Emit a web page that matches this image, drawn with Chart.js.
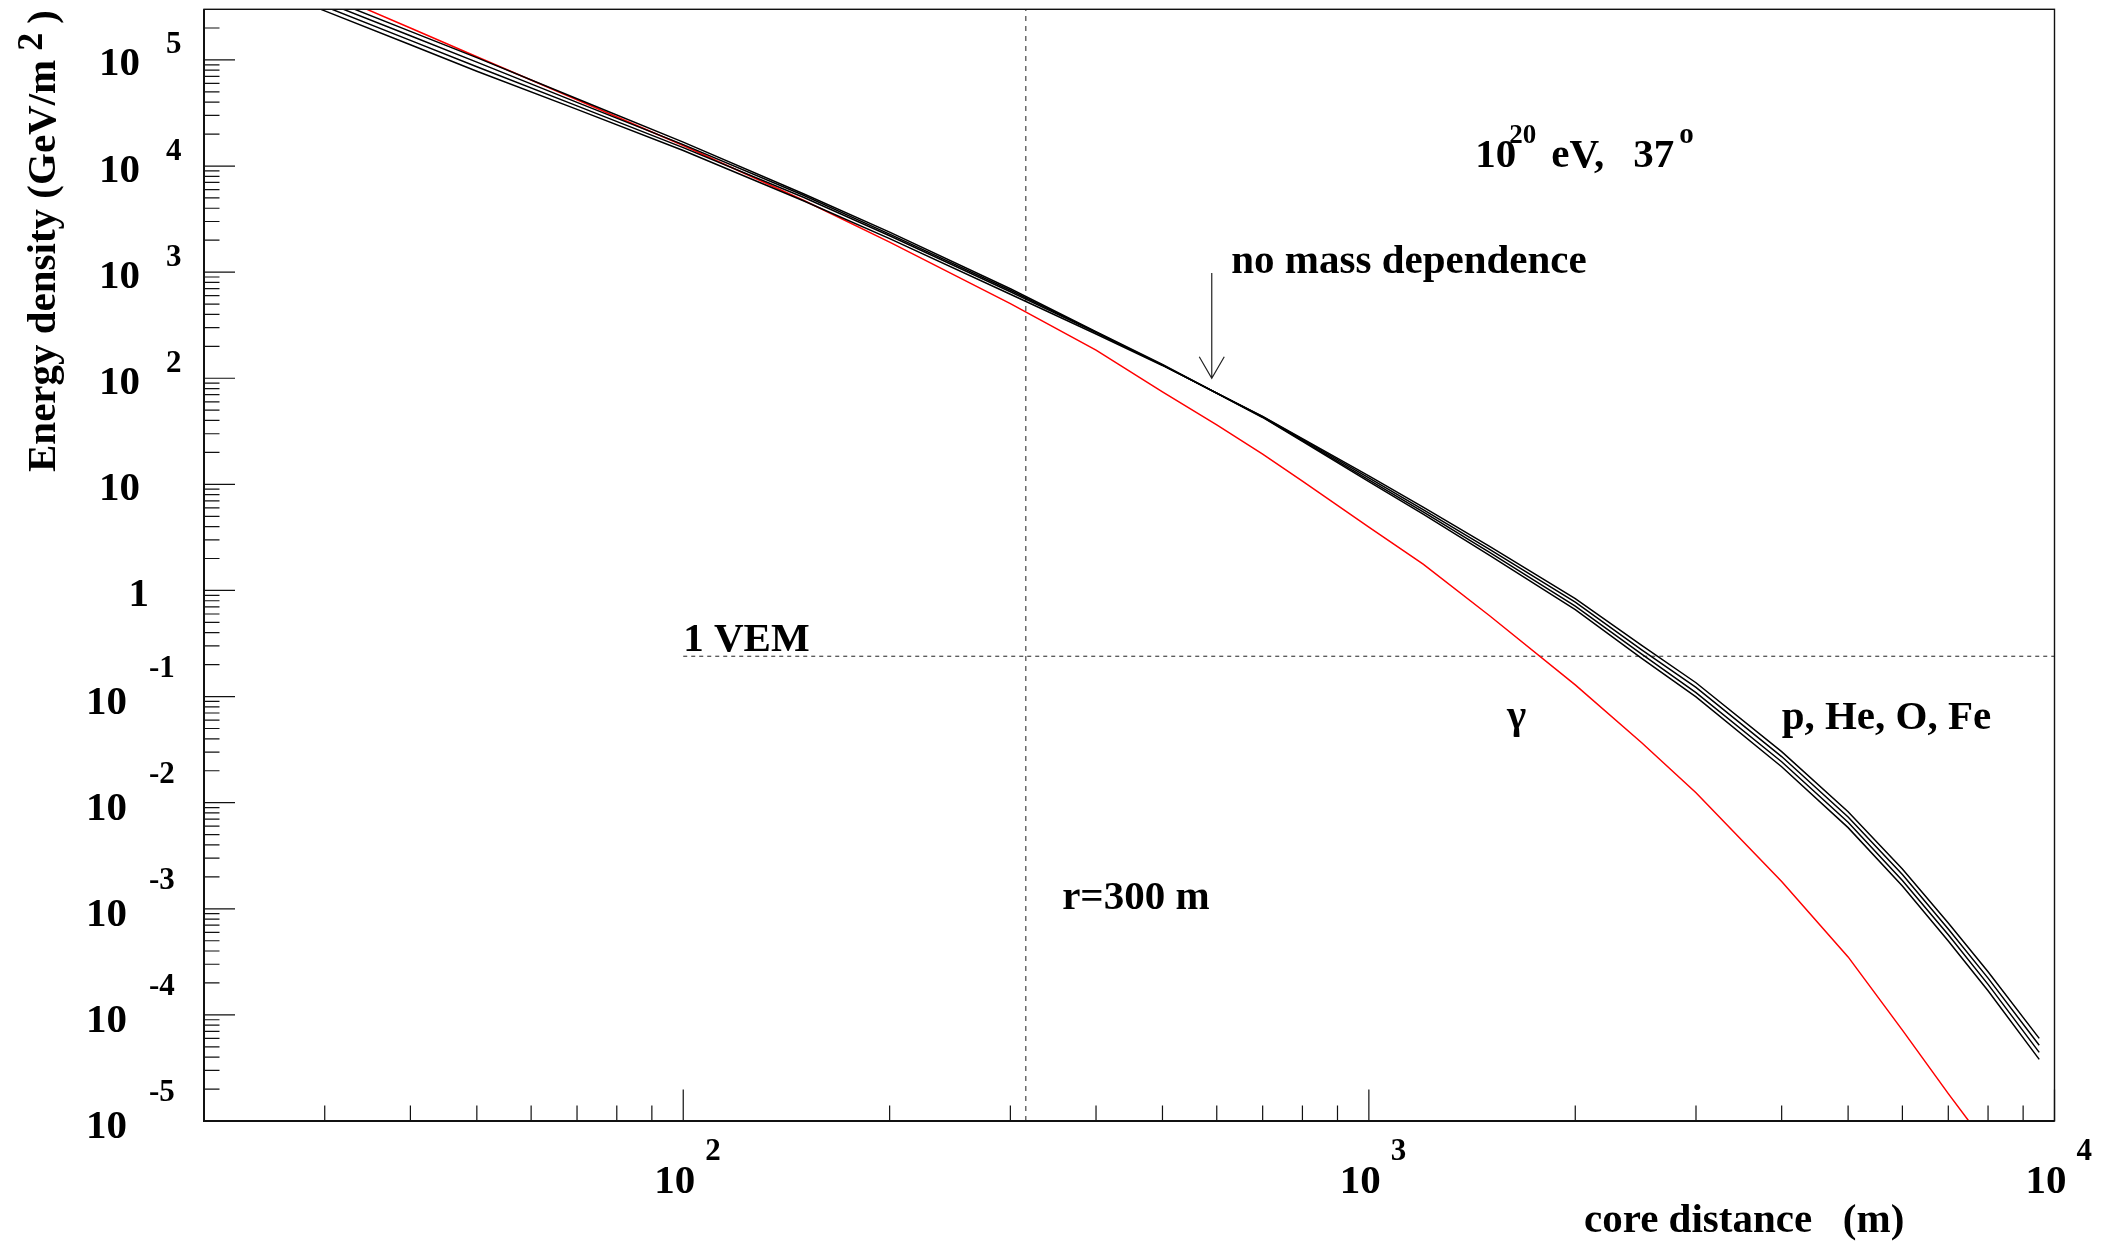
<!DOCTYPE html>
<html>
<head>
<meta charset="utf-8">
<title>Energy density vs core distance</title>
<script src="https://cdn.jsdelivr.net/npm/chart.js@4.4.1/dist/chart.umd.min.js"></script>
<style>
  html, body { margin: 0; padding: 0; background: #fff; }
  #wrap { width: 2115px; height: 1246px; }
</style>
</head>
<body>
<div id="wrap"><canvas id="ldfChart"></canvas></div>
<script>
// === Data ===
// core distance in m, energy density in GeV/m^2
const distance = [20, 30, 40, 50, 70, 100, 150, 200, 300, 400, 500, 600, 700, 800, 1000, 1200, 1500, 2000, 2500, 3000, 4000, 5000, 6000, 7000, 8000, 9500];
const densityFe = [8.20e5, 2.90e5, 1.39e5, 7.83e4, 3.42e4, 1.40e4, 4.68e3, 2.07e3, 619, 261, 132, 72.5, 43.6, 27.0, 12.0, 6.10, 2.60, 0.838, 0.303, 0.135, 0.0303, 8.22e-3, 2.37e-3, 7.36e-4, 2.55e-4, 6.01e-5];
const densityO = [9.04e5, 3.19e5, 1.53e5, 8.63e4, 3.69e4, 1.49e4, 5.05e3, 2.20e3, 653, 269, 133, 72.4, 43.4, 26.5, 11.5, 5.79, 2.44, 0.776, 0.276, 0.122, 0.0272, 7.33e-3, 2.10e-3, 6.46e-4, 2.22e-4, 5.18e-5];
const densityHe = [9.98e5, 3.52e5, 1.69e5, 9.53e4, 3.98e4, 1.59e4, 5.27e3, 2.28e3, 675, 272, 133, 72.3, 43.0, 25.9, 11.0, 5.51, 2.29, 0.711, 0.251, 0.109, 0.0243, 6.53e-3, 1.85e-3, 5.68e-4, 1.94e-4, 4.43e-5];
const densityP = [1.10e6, 3.88e5, 1.86e5, 1.05e5, 4.30e4, 1.68e4, 5.45e3, 2.38e3, 698, 275, 135, 72.2, 42.7, 25.4, 10.6, 5.24, 2.14, 0.659, 0.229, 0.0993, 0.0218, 5.82e-3, 1.64e-3, 4.98e-4, 1.69e-4, 3.81e-5];

const gammaDistance = [20, 30, 40, 50, 70, 100, 150, 200, 300, 400, 500, 600, 700, 800, 1000, 1200, 1500, 2000, 2500, 3000, 4000, 5000, 6000, 7000, 8000];
const densityGamma = [1.37e6, 4.44e5, 2.00e5, 1.07e5, 4.21e4, 1.56e4, 4.73e3, 1.92e3, 505, 184, 74.5, 36.3, 19.3, 10.7, 3.95, 1.77, 0.578, 0.129, 0.0367, 0.0124, 1.81e-3, 3.52e-4, 7.18e-5, 1.81e-5, 5.73e-6];

// reference lines
const vemLevel = 0.24;          // 1 VEM
const vemRange = [100, 10000];
const markerDistance = 316;     // "r=300 m" line
const arrowDistance = 590;
const arrowRange = [980, 100];

// axes
const xRange = [20, 10000];
const yRange = [1e-5, 3e5];
const xMajorTicks = [100, 1000, 10000];
const xTickExponents = ['2', '3', '4'];
const yMajorTicks = [1e-5, 1e-4, 1e-3, 1e-2, 1e-1, 1, 10, 100, 1e3, 1e4, 1e5];
const yTickExponents = ['-5', '-4', '-3', '-2', '-1', '', '', '2', '3', '4', '5'];
const yTickBases = ['10', '10', '10', '10', '10', '1', '10', '10', '10', '10', '10'];
const minorSteps = [2, 3, 4, 5, 6, 7, 8, 9];

const toXY = (xs, ys) => xs.map((v, i) => ({ x: v, y: ys[i] }));

const SERIF = '"Liberation Serif", "Times New Roman", serif';
const bold = (px) => 'bold ' + px + 'px ' + SERIF;

// === Frame, inward ticks, ROOT-style labels ===
const rootFrame = {
    id: 'rootFrame',
    afterDraw(chart) {
        const { ctx, chartArea: a, scales: { x, y } } = chart;
        ctx.save();
        ctx.fillStyle = '#000';
        ctx.strokeStyle = '#111';

        // ticks
        ctx.lineWidth = 1.2;
        ctx.beginPath();
        yMajorTicks.forEach(v => {
            const py = y.getPixelForValue(v);
            ctx.moveTo(a.left, py); ctx.lineTo(a.left + 31, py);
            minorSteps.forEach(k => {
                const m = v * k;
                if (m >= yRange[1]) return;
                const pm = y.getPixelForValue(m);
                ctx.moveTo(a.left, pm); ctx.lineTo(a.left + 15.5, pm);
            });
        });
        [10, 100, 1000].forEach(d => {
            minorSteps.forEach(k => {
                const m = d * k;
                if (m <= xRange[0] || m >= xRange[1]) return;
                const pm = x.getPixelForValue(m);
                ctx.moveTo(pm, a.bottom); ctx.lineTo(pm, a.bottom - 15.5);
            });
        });
        xMajorTicks.forEach(v => {
            const px = x.getPixelForValue(v);
            ctx.moveTo(px, a.bottom); ctx.lineTo(px, a.bottom - 31.5);
        });
        ctx.stroke();

        // frame
        ctx.lineWidth = 1.4;
        ctx.strokeRect(a.left, a.top, a.right - a.left, a.bottom - a.top);
        ctx.lineWidth = 2;
        ctx.beginPath();
        ctx.moveTo(a.left, a.top); ctx.lineTo(a.left, a.bottom); ctx.lineTo(a.right, a.bottom);
        ctx.stroke();

        // y tick labels
        ctx.textBaseline = 'alphabetic';
        yMajorTicks.forEach((v, i) => {
            const py = y.getPixelForValue(v);
            const exp = yTickExponents[i];
            ctx.font = bold(41);
            ctx.textAlign = 'right';
            if (yTickBases[i] === '1') {
                ctx.fillText('1', a.left - 55, py + 15.5);
            } else if (exp.startsWith('-')) {
                ctx.fillText('10', a.left - 77, py + 17);
                ctx.font = bold(31);
                ctx.textAlign = 'left';
                ctx.fillText(exp, a.left - 55, py - 20);
            } else {
                ctx.fillText('10', a.left - 64, py + 15.5);
                if (exp) {
                    ctx.font = bold(31);
                    ctx.textAlign = 'left';
                    ctx.fillText(exp, a.left - 38, py - 6.5);
                }
            }
        });

        // x tick labels
        xMajorTicks.forEach((v, i) => {
            const px = x.getPixelForValue(v);
            ctx.font = bold(41);
            ctx.textAlign = 'right';
            ctx.fillText('10', px + 12, a.bottom + 72);
            ctx.font = bold(31);
            ctx.textAlign = 'left';
            ctx.fillText(xTickExponents[i], px + 22, a.bottom + 39);
        });

        // axis titles
        ctx.font = bold(41);
        ctx.textAlign = 'left';
        ctx.fillText('core distance   (m)', 1584, a.bottom + 111);

        ctx.save();
        ctx.translate(55, 472);
        ctx.rotate(-Math.PI / 2);
        const yt = 'Energy density (GeV/m';
        ctx.fillText(yt, 0, 0);
        const w = ctx.measureText(yt).width;
        ctx.font = bold(36);
        ctx.fillText('2', w + 9, -13);
        const w2 = ctx.measureText('2').width;
        ctx.font = bold(41);
        ctx.fillText(')', w + 18 + w2, 0);
        ctx.restore();

        // annotations (anchored in data coordinates)
        const at = (r, e) => [x.getPixelForValue(r), y.getPixelForValue(e)];
        ctx.textAlign = 'left';

        let [tx, ty] = at(1430, 9800);
        ctx.font = bold(41); ctx.fillText('10', tx, ty);
        ctx.font = bold(27); ctx.fillText('20', tx + 34, ty - 24);
        ctx.font = bold(41); ctx.fillText('eV,', tx + 76, ty);
        ctx.fillText('37', tx + 158, ty);
        ctx.font = bold(29); ctx.fillText('o', tx + 204, ty - 24);

        ctx.font = bold(41);
        [tx, ty] = at(630, 980);
        ctx.fillText('no mass dependence', tx, ty);
        [tx, ty] = at(100, 0.27);
        ctx.fillText('1 VEM', tx, ty);
        [tx, ty] = at(357, 1e-3);
        ctx.fillText('r=300 m', tx, ty);
        [tx, ty] = at(1590, 0.051);
        ctx.fillText('\u03b3', tx, ty);
        [tx, ty] = at(4000, 0.049);
        ctx.fillText('p, He, O, Fe', tx, ty);

        // arrow pointing at the crossing
        const [ax, ay0] = at(arrowDistance, arrowRange[0]);
        const ay1 = y.getPixelForValue(arrowRange[1]);
        ctx.lineWidth = 1.2;
        ctx.strokeStyle = '#222';
        ctx.beginPath();
        ctx.moveTo(ax, ay0); ctx.lineTo(ax, ay1);
        ctx.moveTo(ax - 12.5, ay1 - 21.5); ctx.lineTo(ax, ay1); ctx.lineTo(ax + 12.5, ay1 - 21.5);
        ctx.stroke();

        ctx.restore();
    }
};

// === Chart ===
const lineStyle = (color) => ({
    borderColor: color,
    borderWidth: 1.5,
    pointRadius: 0,
    tension: 0,
    fill: false
});

new Chart(document.getElementById('ldfChart'), {
    type: 'line',
    data: {
        datasets: [
            { label: 'Fe', data: toXY(distance, densityFe), ...lineStyle('#000') },
            { label: 'O', data: toXY(distance, densityO), ...lineStyle('#000') },
            { label: 'He', data: toXY(distance, densityHe), ...lineStyle('#000') },
            { label: 'p', data: toXY(distance, densityP), ...lineStyle('#000') },
            { label: 'gamma', data: toXY(gammaDistance, densityGamma), ...lineStyle('#ff0000') },
            {
                label: '1 VEM',
                data: toXY(vemRange, [vemLevel, vemLevel]),
                borderColor: '#222', borderWidth: 1, borderDash: [4, 4], pointRadius: 0
            },
            {
                label: 'r=300 m',
                data: toXY([markerDistance, markerDistance], yRange),
                borderColor: '#222', borderWidth: 1, borderDash: [5, 5], pointRadius: 0
            }
        ]
    },
    options: {
        responsive: true,
        maintainAspectRatio: false,
        animation: false,
        layout: { padding: { left: 204, right: 60.5, top: 9.3, bottom: 125 } },
        scales: {
            x: {
                type: 'logarithmic', min: xRange[0], max: xRange[1],
                ticks: { display: false },
                grid: { display: false, drawTicks: false },
                border: { display: false }
            },
            y: {
                type: 'logarithmic', min: yRange[0], max: yRange[1],
                ticks: { display: false },
                grid: { display: false, drawTicks: false },
                border: { display: false }
            }
        },
        plugins: {
            legend: { display: false },
            tooltip: { enabled: false }
        }
    },
    plugins: [rootFrame]
});
</script>
</body>
</html>
